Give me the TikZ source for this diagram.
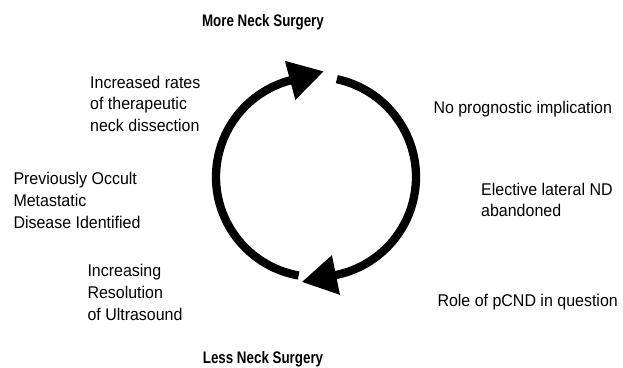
\documentclass[tikz,border=0pt]{standalone}
\usepackage{fontspec}
\setmainfont{Liberation Sans}[FakeStretch=0.94]
\newfontfamily\headfont{Liberation Sans}[FakeStretch=0.8]
\usepackage{tikz}
\usetikzlibrary{arrows.meta, positioning}

\begin{document}
\begin{tikzpicture}[x=1pt, y=1pt, >={Triangle[length=35pt, width=38pt]},
    surgery/.style={font=\headfont\bfseries\fontsize{16.7}{20}\selectfont, anchor=base, inner sep=0pt},
    note/.style={font=\fontsize{17}{21.7}\selectfont, align=left, anchor=base west, inner sep=0pt},
    cyclearc/.style={line width=8.3pt}]

    \useasboundingbox (0,0) rectangle (623,367);
    \coordinate (c) at (316,190);

    \node (more) [surgery] at (263,340) {More Neck Surgery};
    \node (less) [surgery] at (263,4) {Less Neck Surgery};

    \node (increased) [note] at (90,235.3) {Increased rates\\of therapeutic\\neck dissection};
    \node (occult) [note] at (13.3,138.6) {Previously Occult\\Metastatic\\Disease Identified};
    \node (ultrasound) [note] at (87.3,46.9) {Increasing\\Resolution\\of Ultrasound};

    \node (noprog) [note] at (433.3,253.7) {No prognostic implication};
    \node (elective) [note] at (481,150.3) {Elective lateral ND\\abandoned};
    \node (role) [note] at (437.3,60.3) {Role of pCND in question};

    % Cycle arrows
    \draw [->, cyclearc] (c) ++(260:100) arc[start angle=260, end angle=105, radius=100] -- ++(15:35);
    \draw [->, cyclearc] (c) ++(78:100) arc[start angle=78, end angle=-78.5, radius=100] -- ++(191.5:35);

\end{tikzpicture}
\end{document}
